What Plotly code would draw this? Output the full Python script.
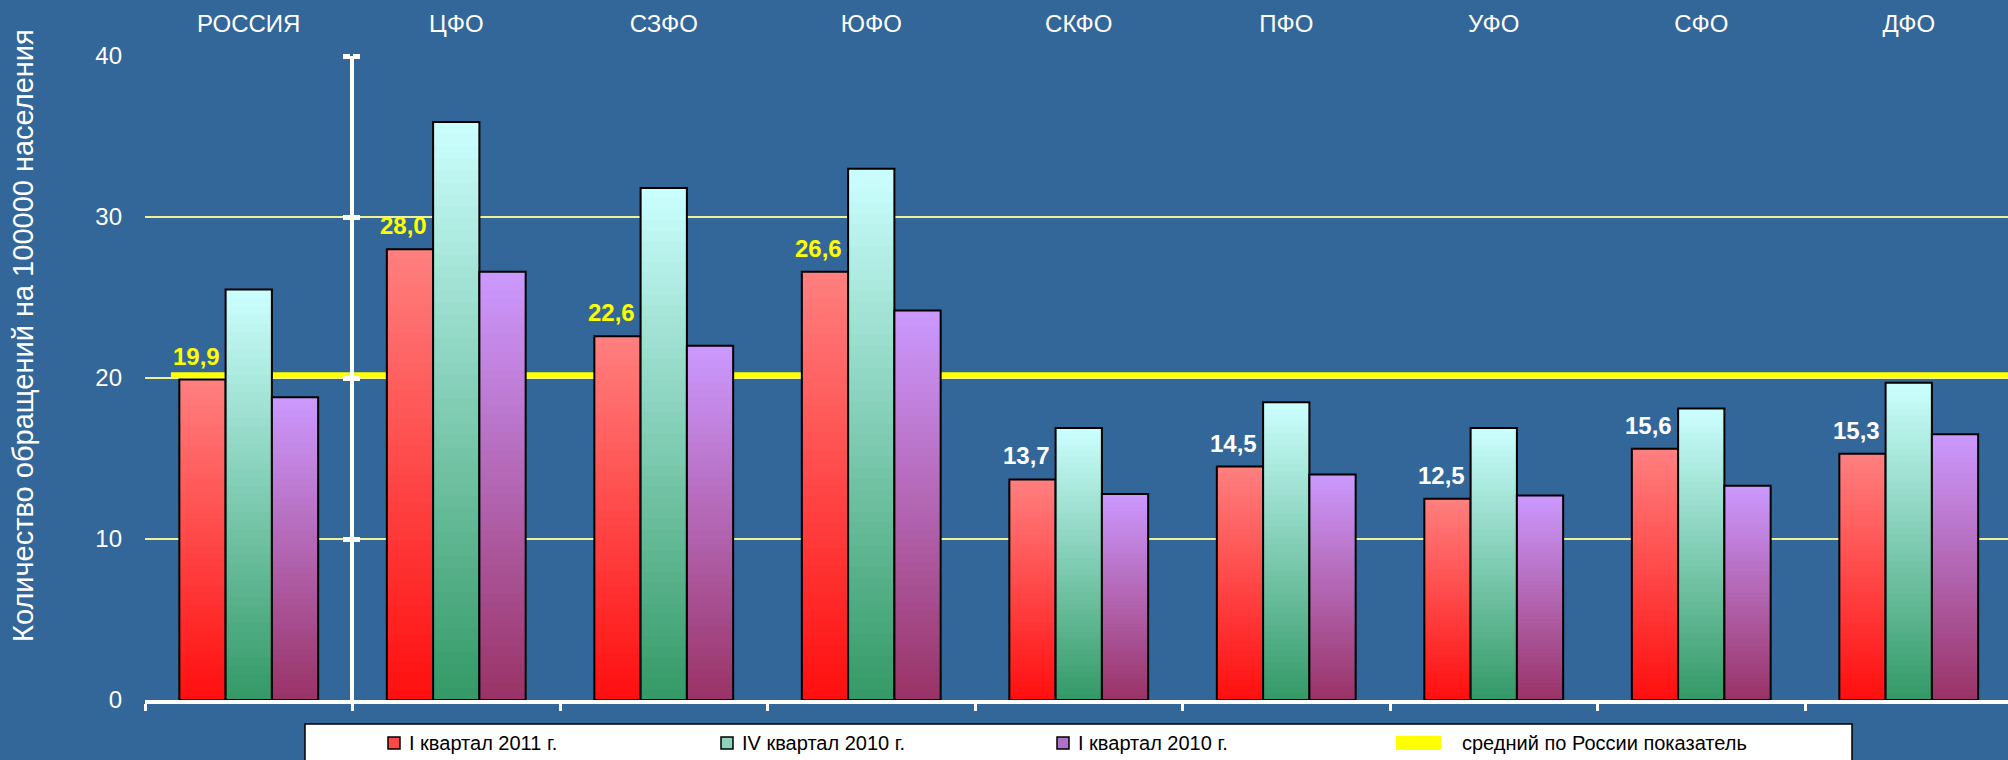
import plotly.graph_objects as go

# ---------------- data ----------------
categories = ["РОССИЯ", "ЦФО", "СЗФО", "ЮФО", "СКФО", "ПФО", "УФО", "СФО", "ДФО"]
q1_2011 = [19.9, 28.0, 22.6, 26.6, 13.7, 14.5, 12.5, 15.6, 15.3]
q4_2010 = [25.5, 35.9, 31.8, 33.0, 16.9, 18.5, 16.9, 18.1, 19.7]
q1_2010 = [18.8, 26.6, 22.0, 24.2, 12.8, 14.0, 12.7, 13.3, 16.5]
russia_avg = 20.2
series_names = ["I квартал 2011 г.", "IV квартал 2010 г.", "I квартал 2010 г."]
avg_name = "средний по России показатель"
y_ticks = [0, 10, 20, 30, 40]
y_title = "Количество обращений на 100000 населения"

# ---------------- styles ----------------
FONT = "Liberation Sans, Arial, sans-serif"
BG = "#336699"
W, H = 2008, 760
L, T, B, R = 145, 56, 60, 0
CAT_PX = 207.5
x_range = [-0.5, -0.5 + (W - L - R) / CAT_PX]
plot_w = W - L - R
plot_h = H - T - B

grad = [((255, 128, 128), (255, 14, 14)),
        ((204, 255, 255), (51, 153, 102)),
        ((204, 153, 255), (153, 51, 102))]
legend_sym = ["#ff4848", "#8fd3bf", "#b072c8"]
label_colors = ["#ffff00"] * 4 + ["#ffffff"] * 5

N = 48
BW = 0.223
offsets = [-1.5 * BW, -0.5 * BW, 0.5 * BW]


def px_x(p):
    return (p - L) / plot_w


def px_y(p):
    return (H - B - p) / plot_h


def mix(a, b, t):
    return "rgb(%d,%d,%d)" % tuple(round(a[i] + (b[i] - a[i]) * t) for i in range(3))


series = [q1_2011, q4_2010, q1_2010]
xs = list(range(len(categories)))

fig = go.Figure()

# gradient bars: tallest (top colour) first, shorter bars layered on top
for s, vals in enumerate(series):
    top, bot = grad[s]
    for k in range(N):
        frac = (N - k) / N
        t = (N - k - 0.5) / N
        fig.add_trace(go.Bar(
            x=xs, y=[v * frac for v in vals],
            width=BW, offset=offsets[s],
            marker=dict(color=mix(bot, top, t), line=dict(width=0)),
            showlegend=False, hoverinfo="skip"))
    fig.add_trace(go.Bar(
        x=xs, y=vals, width=BW, offset=offsets[s], name=series_names[s],
        marker=dict(color="rgba(0,0,0,0)", line=dict(color="black", width=2)),
        showlegend=False, hoverinfo="skip"))

# dummy traces for helper axes
fig.add_trace(go.Scatter(x=[None], y=[None], xaxis="x2", showlegend=False, hoverinfo="skip"))
fig.add_trace(go.Scatter(x=[None], y=[None], yaxis="y2", showlegend=False, hoverinfo="skip"))
fig.add_trace(go.Scatter(x=[None], y=[None], yaxis="y3", showlegend=False, hoverinfo="skip"))

# value labels for the first series
for i, v in enumerate(q1_2011):
    fig.add_annotation(
        x=i + offsets[0] + BW / 2, y=v, xref="x", yref="y",
        text="<b>" + f"{v:.1f}".replace(".", ",") + "</b>",
        showarrow=False, xanchor="center", yanchor="bottom", xshift=-6, yshift=8,
        font=dict(family=FONT, size=24, color=label_colors[i]))

# y title
fig.add_annotation(x=px_x(23), y=px_y(336), xref="paper", yref="paper",
                   text=y_title, textangle=-90, showarrow=False,
                   xanchor="center", yanchor="middle",
                   font=dict(family=FONT, size=29, color="white"))

# average line (behind bars)
fig.add_shape(type="line", xref="x", yref="y", x0=-0.375, x1=x_range[1],
              y0=russia_avg, y1=russia_avg, layer="between",
              line=dict(color="#ffff00", width=5))

# legend box
fig.add_shape(type="rect", xref="paper", yref="paper",
              x0=px_x(305), x1=px_x(1852), y0=px_y(724), y1=px_y(790),
              fillcolor="white", line=dict(color="black", width=1.5), layer="above")

# legend entries (symbols + text)
legend_y = 743
sym_cx = [394, 727, 1063]
text_x = [407, 740, 1076, 1460]
for s in range(3):
    fig.add_shape(type="rect", xref="paper", yref="paper",
                  x0=px_x(sym_cx[s] - 6), x1=px_x(sym_cx[s] + 6),
                  y0=px_y(legend_y + 6), y1=px_y(legend_y - 6),
                  fillcolor=legend_sym[s], line=dict(color="black", width=1.5), layer="above")
fig.add_shape(type="rect", xref="paper", yref="paper",
              x0=px_x(1396), x1=px_x(1441), y0=px_y(legend_y + 7), y1=px_y(legend_y - 7),
              fillcolor="#ffff00", line=dict(width=0), layer="above")
for name, tx in zip(series_names + [avg_name], text_x):
    fig.add_annotation(x=px_x(tx), y=px_y(legend_y), xref="paper", yref="paper",
                       text=name, showarrow=False, xanchor="left", yanchor="middle",
                       font=dict(family=FONT, size=20, color="black"))

yr = [0, y_ticks[-1]]
fig.update_layout(
    width=W, height=H,
    margin=dict(l=L, r=R, t=T, b=B),
    paper_bgcolor=BG, plot_bgcolor=BG,
    barmode="overlay",
    showlegend=False,
    hovermode=False,
    font=dict(family=FONT, color="white"),
    xaxis=dict(range=x_range, showgrid=False, zeroline=False, showline=True,
               linecolor="white", linewidth=4, ticks="outside",
               tickvals=[i - 0.5 for i in range(len(categories) + 1)],
               ticklen=7, tickwidth=3, tickcolor="white", showticklabels=False),
    xaxis2=dict(overlaying="x", anchor="y", side="top", range=x_range,
                tickvals=xs, ticktext=categories, showgrid=False, zeroline=False,
                showline=False, ticks="", ticklabelstandoff=18,
                tickfont=dict(family=FONT, size=24, color="white")),
    yaxis=dict(range=yr, tickvals=y_ticks, showgrid=True, gridcolor="#f0f09a",
               gridwidth=1.5, zeroline=False, showline=False, ticks="",
               ticklabelstandoff=22,
               tickfont=dict(family=FONT, size=24, color="white")),
    yaxis2=dict(overlaying="y", anchor="free", position=px_x(352), side="left",
                range=yr, showline=True, linecolor="white", linewidth=4,
                ticks="outside", tickvals=y_ticks[1:], ticklen=7, tickwidth=5,
                tickcolor="white", showticklabels=False, showgrid=False, zeroline=False),
    yaxis3=dict(overlaying="y", anchor="free", position=px_x(352), side="right",
                range=yr, showline=False,
                ticks="outside", tickvals=y_ticks[1:], ticklen=7, tickwidth=5,
                tickcolor="white", showticklabels=False, showgrid=False, zeroline=False),
)

fig.write_html("out.html",
               config={"displayModeBar": False, "staticPlot": True},
               post_script="document.body.style.margin='0';"
                           "document.body.style.background='%s';" % BG)
